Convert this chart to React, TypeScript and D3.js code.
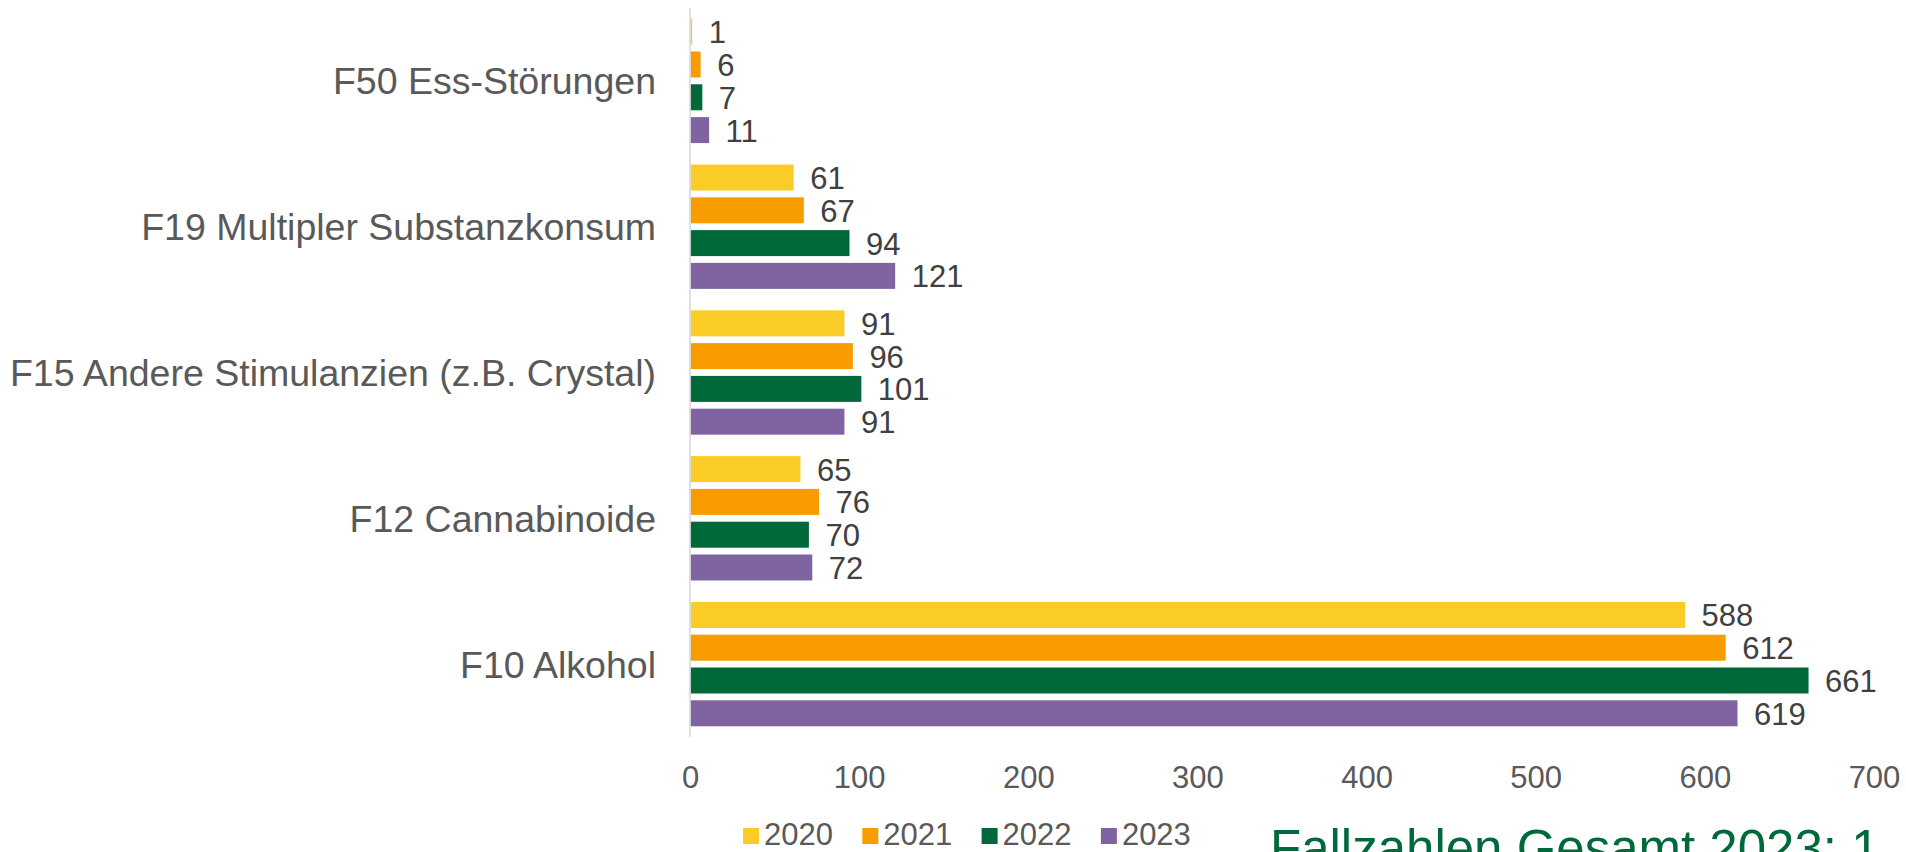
import React from "react";
import * as d3 from "d3";

const categories = [
  "F50 Ess-Störungen",
  "F19 Multipler Substanzkonsum",
  "F15 Andere Stimulanzien (z.B. Crystal)",
  "F12 Cannabinoide",
  "F10 Alkohol",
];
const seriesNames = ["2020", "2021", "2022", "2023"];
const values2020 = [1, 61, 91, 65, 588];
const values2021 = [6, 67, 96, 76, 612];
const values2022 = [7, 94, 101, 70, 661];
const values2023 = [11, 121, 91, 72, 619];
const seriesValues = [values2020, values2021, values2022, values2023];
const seriesColors = ["#FCCC26", "#F99C00", "#006839", "#8064A2"];
const xTicks = [0, 100, 200, 300, 400, 500, 600, 700];
const footerText = "Fallzahlen Gesamt 2023: 1";

const W = 1906;
const H = 852;
const FONT = "'Liberation Sans', Arial, sans-serif";

export default function App() {
  const x = d3.scaleLinear().domain([0, 700]).range([690.5, 1874.5]);
  const y = d3
    .scaleBand<string>()
    .domain(categories)
    .range([8, 737])
    .paddingInner(0.147)
    .paddingOuter(0.0735);
  const inner = d3
    .scaleBand<string>()
    .domain(seriesNames)
    .range([0, y.bandwidth()])
    .paddingInner(0.207)
    .paddingOuter(0);

  const legendX0 = 743;
  const legendStep = 119.3;

  return (
    <svg
      width={W}
      height={H}
      style={{ position: "absolute", left: 0, top: 0, overflow: "hidden", background: "#fff" }}
      fontFamily={FONT}
    >
      <rect x={0} y={0} width={W} height={H} fill="#ffffff" />
      {/* category labels */}
      {categories.map((c) => (
        <text
          key={c}
          x={656}
          y={(y(c) as number) + y.bandwidth() / 2 + 13.5}
          textAnchor="end"
          fontSize={37.5}
          fill="#595959"
        >
          {c}
        </text>
      ))}
      {/* bars */}
      {categories.map((c, ci) =>
        seriesNames.map((s, si) => {
          const v = seriesValues[si][ci];
          const by = (y(c) as number) + (inner(s) as number);
          const bh = inner.bandwidth();
          return (
            <g key={c + s}>
              <rect
                x={x(0)}
                y={by}
                width={Math.max(0, x(v) - x(0))}
                height={bh}
                fill={seriesColors[si]}
              />
              <text
                x={x(v) + 16.5}
                y={by + bh / 2 + 11.5}
                fontSize={31}
                fill="#404040"
              >
                {v}
              </text>
            </g>
          );
        })
      )}
      {/* axis line */}
      <line x1={690} x2={690} y1={8} y2={737} stroke="#D9D9D9" strokeWidth={1.6} />
      {/* tick labels */}
      {xTicks.map((t) => (
        <text key={t} x={x(t)} y={788} textAnchor="middle" fontSize={31} fill="#595959">
          {t}
        </text>
      ))}
      {/* legend */}
      {seriesNames.map((s, i) => {
        const lx = legendX0 + i * legendStep;
        return (
          <g key={s}>
            <rect x={lx} y={828} width={16} height={16} fill={seriesColors[i]} />
            <text x={lx + 21} y={845} fontSize={31} fill="#595959">
              {s}
            </text>
          </g>
        );
      })}
      {/* footer (cut off at the edges in the original) */}
      <text x={1270} y={866} fontSize={51} fill="#00693C">
        {footerText}
      </text>
    </svg>
  );
}
